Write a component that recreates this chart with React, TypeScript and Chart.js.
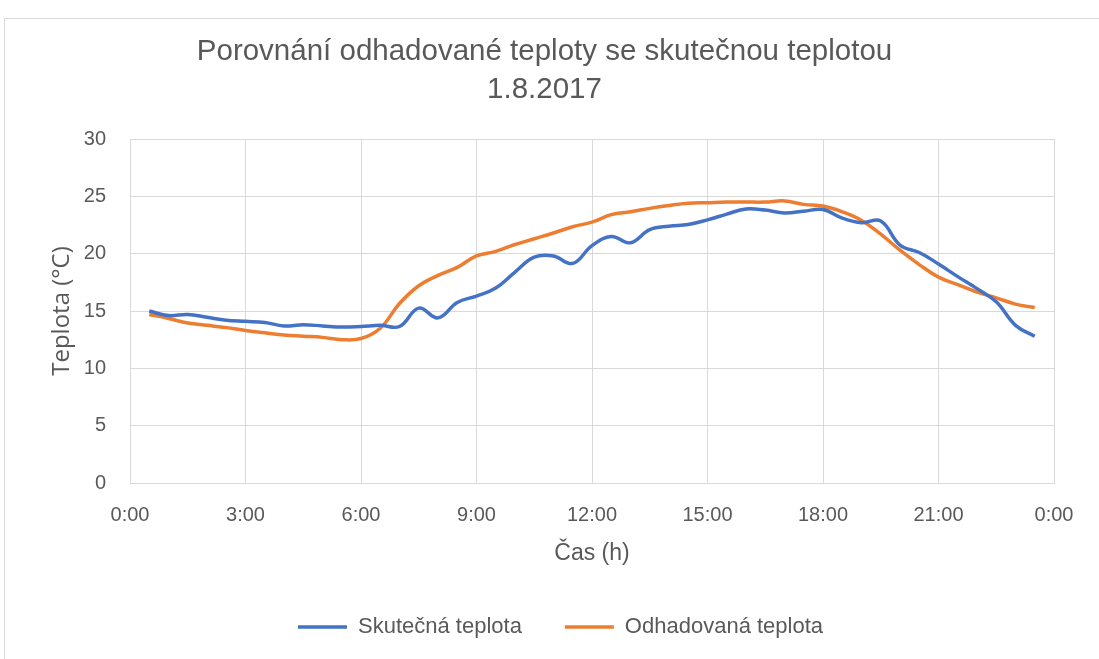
import React, { useEffect, useRef } from "react";
import { Chart, registerables } from "chart.js";

Chart.register(...registerables);

const hours = [
  0.5, 1, 1.5, 2, 2.5, 3, 3.5, 4, 4.5, 5, 5.5, 6, 6.5, 7, 7.5, 8, 8.5, 9, 9.5, 10, 10.5, 11, 11.5, 12,
  12.5, 13, 13.5, 14, 14.5, 15, 15.5, 16, 16.5, 17, 17.5, 18, 18.5, 19, 19.5, 20, 20.5, 21, 21.5, 22,
  22.5, 23, 23.5,
];

const actualTemp = [
  15.0, 14.6, 14.7, 14.45, 14.2, 14.1, 14.0, 13.7, 13.8, 13.7, 13.6, 13.65, 13.75, 13.65, 15.25, 14.4,
  15.75, 16.3, 17.0, 18.4, 19.7, 19.8, 19.15, 20.7, 21.5, 20.95, 22.1, 22.4, 22.55, 22.95, 23.45, 23.9,
  23.8, 23.55, 23.7, 23.85, 23.1, 22.7, 22.85, 20.75, 20.1, 19.1, 18.0, 16.95, 15.8, 13.75, 12.8,
];

const estimatedTemp = [
  14.7, 14.35, 13.95, 13.75, 13.55, 13.3, 13.1, 12.9, 12.8, 12.7, 12.5, 12.6, 13.5, 15.65, 17.2, 18.1,
  18.8, 19.8, 20.2, 20.8, 21.3, 21.8, 22.35, 22.75, 23.4, 23.65, 23.95, 24.2, 24.4, 24.45, 24.5, 24.5,
  24.5, 24.6, 24.3, 24.15, 23.65, 22.9, 21.7, 20.3, 19.05, 17.95, 17.3, 16.65, 16.15, 15.6, 15.3,
];

const seriesNames = ["Skutečná teplota", "Odhadovaná teplota"];
const seriesColors = ["#4472C4", "#ED7D31"];
const titleLines = ["Porovnání odhadované teploty se skutečnou teplotou", "1.8.2017"];
const xAxisTitle = "Čas (h)";
const yAxisTitle = "Teplota (°C)";

const TEXT = "#595959";
const GRID = "#d9d9d9";
const FONT = "'Liberation Sans', Arial, sans-serif";

const legendShift = {
  id: "legendShift",
  afterLayout(chart: any) {
    const lg = chart.legend;
    if (lg) {
      lg.left += 16;
      lg.right += 16;
    }
  },
};

export default function App() {
  const canvasRef = useRef<HTMLCanvasElement | null>(null);

  useEffect(() => {
    if (!canvasRef.current) return;
    const toPoints = (vals: number[]) => hours.map((h, i) => ({ x: h, y: vals[i] }));
    const chart = new Chart(canvasRef.current, {
      type: "line",
      data: {
        datasets: [
          {
            label: seriesNames[0],
            data: toPoints(actualTemp),
            borderColor: seriesColors[0],
            backgroundColor: seriesColors[0],
            borderWidth: 3.5,
            pointRadius: 0,
            tension: 0.4,
            pointStyle: "line",
          },
          {
            label: seriesNames[1],
            data: toPoints(estimatedTemp),
            borderColor: seriesColors[1],
            backgroundColor: seriesColors[1],
            borderWidth: 3.5,
            pointRadius: 0,
            tension: 0.4,
            pointStyle: "line",
          },
        ],
      },
      plugins: [legendShift],
      options: {
        animation: false,
        responsive: false,
        maintainAspectRatio: false,
        layout: { padding: { left: 30, right: 57, top: 0, bottom: 0 } },
        plugins: {
          title: {
            display: true,
            text: titleLines,
            color: TEXT,
            font: { family: FONT, size: 29.5, weight: "normal", lineHeight: 38 / 29.5 },
            padding: { top: 14, bottom: 30 },
          },
          legend: {
            display: true,
            position: "bottom",
            labels: {
              color: TEXT,
              font: { family: FONT, size: 22 },
              usePointStyle: true,
              pointStyleWidth: 49,
              padding: 43,
            },
          },
          tooltip: { enabled: false },
        },
        scales: {
          x: {
            type: "linear",
            min: 0,
            max: 24,
            grid: { color: GRID, lineWidth: 1, drawTicks: false },
            border: { color: GRID },
            ticks: {
              stepSize: 3,
              padding: 20,
              color: TEXT,
              font: { family: FONT, size: 20 },
              callback: (v: any) => `${Number(v) % 24}:00`,
            },
            title: {
              display: true,
              text: xAxisTitle,
              color: TEXT,
              font: { family: FONT, size: 23 },
              padding: { top: 11, bottom: 6 },
            },
            afterFit: (scale: any) => {
              scale.height = 90;
            },
          },
          y: {
            min: 0,
            max: 30,
            grid: { color: GRID, lineWidth: 1, drawTicks: false },
            border: { color: GRID },
            ticks: {
              stepSize: 5,
              padding: 24,
              color: TEXT,
              font: { family: FONT, size: 20 },
            },
            title: {
              display: true,
              text: yAxisTitle,
              color: TEXT,
              font: { family: "'Open Sans', sans-serif", size: 24 },
              padding: { top: 13, bottom: 9 },
            },
            afterFit: (scale: any) => {
              scale.width = 95;
            },
          },
        },
      },
    });
    return () => chart.destroy();
  }, []);

  return (
    <div
      style={{
        position: "fixed",
        left: 0,
        top: 0,
        width: 1099,
        height: 659,
        overflow: "hidden",
        background: "#ffffff",
      }}
    >
      <div
        style={{
          position: "absolute",
          left: 4,
          top: 18,
          width: 1106,
          height: 668,
          border: "1px solid #d9d9d9",
          background: "#ffffff",
        }}
      >
        <canvas ref={canvasRef} width={1106} height={629} style={{ display: "block" }} />
      </div>
    </div>
  );
}
